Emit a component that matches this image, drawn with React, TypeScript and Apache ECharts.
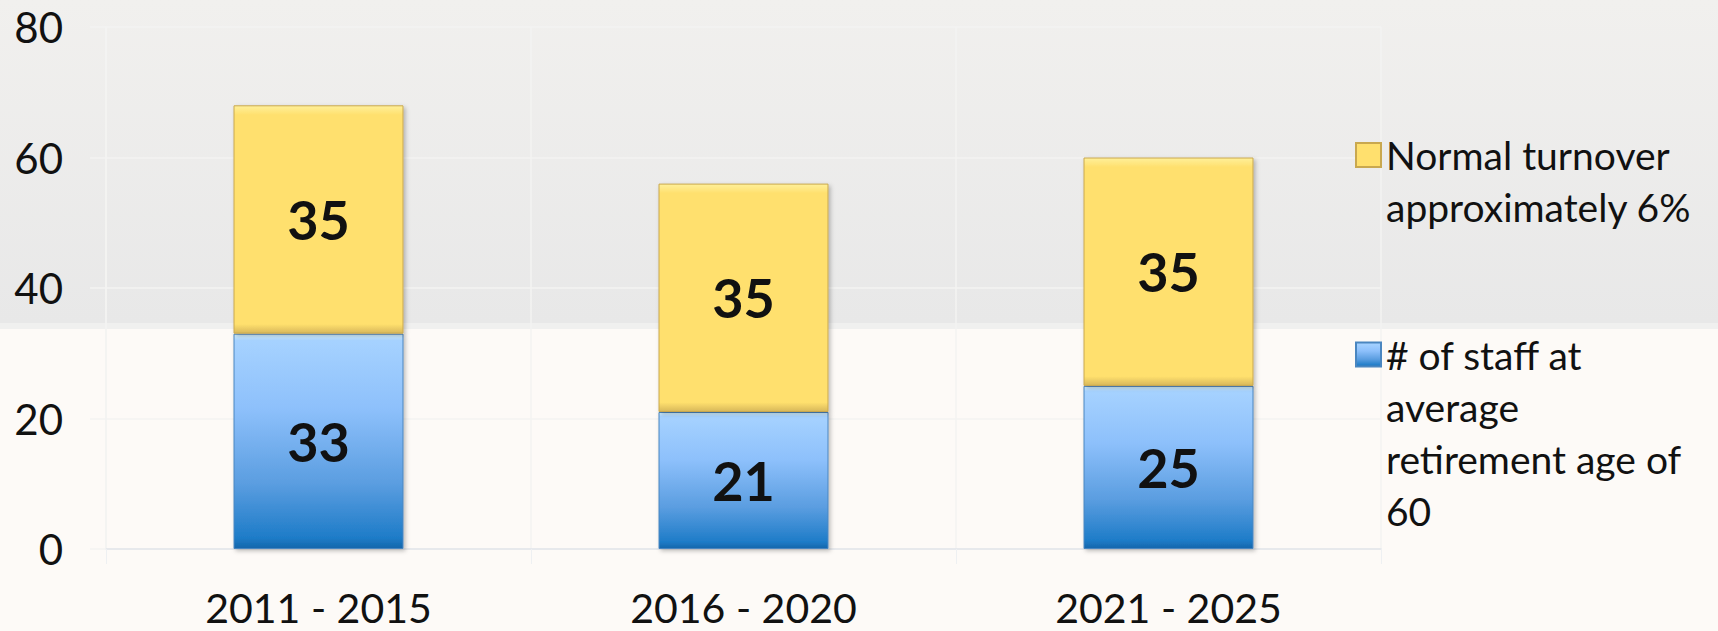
import React, { useEffect, useRef } from "react";
import * as echarts from "echarts";

const categories = ["2011 - 2015", "2016 - 2020", "2021 - 2025"];
const retirementName = "# of staff at average retirement age of 60";
const turnoverName = "Normal turnover approximately 6%";
const retirementValues = [33, 21, 25];
const turnoverValues = [35, 35, 35];
const yTicks = [0, 20, 40, 60, 80];

const legendLines: Record<string, string> = {
  [turnoverName]: "\nNormal turnover\napproximately 6%",
  [retirementName]: "\n\n\n# of staff at\naverage\nretirement age of\n60",
};

const FONT = "Lato, 'Open Sans', sans-serif";

export default function App() {
  const ref = useRef<HTMLDivElement>(null);
  useEffect(() => {
    if (!ref.current) return;
    const chart = echarts.init(ref.current, null, { renderer: "svg" });
    const blue = new echarts.graphic.LinearGradient(0, 0, 0, 1, [
      { offset: 0, color: "#d8f4ff" },
      { offset: 0.03, color: "#a6d2ff" },
      { offset: 0.35, color: "#8dc0fb" },
      { offset: 0.7, color: "#5a9de0" },
      { offset: 0.95, color: "#1e7cc8" },
      { offset: 1, color: "#1566ab" },
    ]);
    const yellow = new echarts.graphic.LinearGradient(0, 0, 0, 1, [
      { offset: 0, color: "#fff09a" },
      { offset: 0.04, color: "#ffe06e" },
      { offset: 0.96, color: "#ffe06e" },
      { offset: 1, color: "#d8b85a" },
    ]);
    const gridColor = "#f3f3f2";
    chart.setOption({
      animation: false,
      backgroundColor: "#fdfaf7",
      graphic: [
        {
          type: "rect",
          z: -10,
          silent: true,
          shape: { x: 0, y: 0, width: 1718, height: 323 },
          style: {
            fill: new echarts.graphic.LinearGradient(0, 0, 0, 1, [
              { offset: 0, color: "#f1f0ee" },
              { offset: 1, color: "#e8e8e8" },
            ]),
          },
        },
        {
          type: "rect",
          z: -10,
          silent: true,
          shape: { x: 0, y: 323, width: 1718, height: 6 },
          style: { fill: "#f0f0ef" },
        },
      ],
      grid: { left: 106, right: 337, top: 27, bottom: 82, containLabel: false },
      legend: [
        {
          data: [turnoverName],
          orient: "vertical",
          left: 1355,
          top: 77,
          padding: 0,
          itemWidth: 25,
          itemHeight: 24,
          selectedMode: false,
          icon: "rect",
          formatter: (n: string) => legendLines[n],
          textStyle: { fontFamily: FONT, fontSize: 39, lineHeight: 52, color: "#111" },
        },
        {
          data: [retirementName],
          orient: "vertical",
          left: 1355,
          top: 172.5,
          padding: 0,
          itemWidth: 25,
          itemHeight: 24,
          selectedMode: false,
          icon: "rect",
          formatter: (n: string) => legendLines[n],
          textStyle: { fontFamily: FONT, fontSize: 39, lineHeight: 52, color: "#111" },
        },
      ],
      xAxis: {
        type: "category",
        data: categories,
        axisLine: { show: true, lineStyle: { color: "#e2e5ea", width: 1.5 } },
        axisTick: { show: true, length: 15, lineStyle: { color: "#eef0f2" } },
        splitLine: { show: true, lineStyle: { color: gridColor, width: 1.5 } },
        axisLabel: {
          fontFamily: FONT,
          fontSize: 41,
          lineHeight: 40,
          color: "#111",
          margin: 38,
        },
      },
      yAxis: {
        type: "value",
        min: 0,
        max: 80,
        interval: 20,
        axisLine: { show: true, lineStyle: { color: gridColor, width: 1.5 } },
        axisTick: { show: true, length: 16, lineStyle: { color: gridColor, width: 1.5 } },
        splitLine: { show: true, lineStyle: { color: gridColor, width: 1.5 } },
        axisLabel: {
          fontFamily: FONT,
          fontSize: 42,
          color: "#111",
          margin: 43,
          formatter: (v: number) => (yTicks.includes(v) ? String(v) : ""),
        },
      },
      series: [
        {
          name: retirementName,
          type: "bar",
          stack: "total",
          data: retirementValues,
          barWidth: "40%",
          itemStyle: {
            color: blue,
            borderColor: "#4a86c0",
            borderWidth: 1,
            shadowColor: "rgba(0,0,0,0.25)",
            shadowBlur: 4,
            shadowOffsetX: 2,
            shadowOffsetY: 2,
          },
          label: {
            show: true,
            position: "inside",
            fontFamily: FONT,
            fontWeight: "bold",
            fontSize: 54,
            color: "#111",
          },
        },
        {
          name: turnoverName,
          type: "bar",
          stack: "total",
          data: turnoverValues,
          barWidth: "40%",
          itemStyle: {
            color: yellow,
            borderColor: "#c9a84f",
            borderWidth: 1,
            shadowColor: "rgba(0,0,0,0.25)",
            shadowBlur: 4,
            shadowOffsetX: 2,
            shadowOffsetY: 2,
          },
          label: {
            show: true,
            position: "inside",
            fontFamily: FONT,
            fontWeight: "bold",
            fontSize: 54,
            color: "#111",
          },
        },
      ],
    });
    return () => chart.dispose();
  }, []);
  return (
    <div
      ref={ref}
      style={{ position: "fixed", left: 0, top: 0, width: 1718, height: 631 }}
    />
  );
}
